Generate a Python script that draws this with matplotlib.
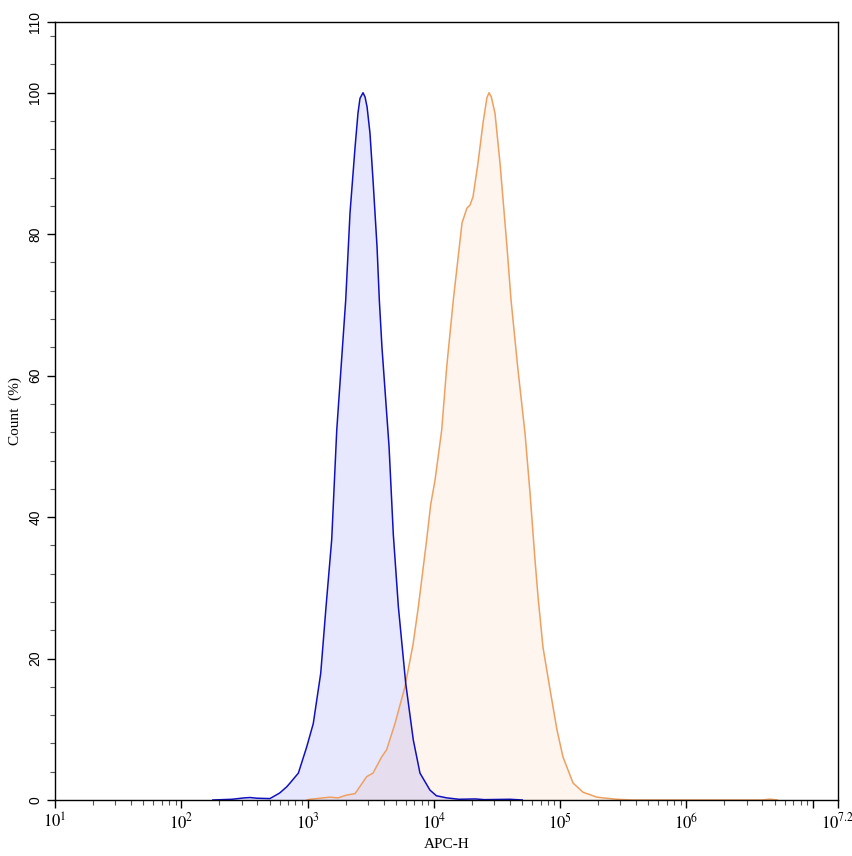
import numpy as np
import matplotlib.pyplot as plt
from matplotlib.ticker import FixedLocator, NullFormatter

plt.rcParams['font.family'] = ['Liberation Serif', 'DejaVu Serif']
plt.rcParams['mathtext.fontset'] = 'stix'

# log10(APC-H) and Count (%)
azul_log = [2.25, 2.40, 2.50, 2.544, 2.60, 2.702, 2.78, 2.837, 2.861, 2.927, 2.993, 3.045,
            3.104, 3.146, 3.191, 3.231, 3.302, 3.336, 3.376, 3.399, 3.415, 3.439, 3.455,
            3.471, 3.494, 3.518, 3.550, 3.568, 3.589, 3.645, 3.679, 3.719, 3.777, 3.837,
            3.890, 3.969, 4.02, 4.102, 4.20, 4.326, 4.40, 4.603, 4.70]
azul_cnt = [0.0, 0.1, 0.3, 0.35, 0.25, 0.2, 1.0, 1.9, 2.4, 3.8, 7.5, 10.8,
            17.9, 27.3, 36.8, 52.3, 70.7, 83.0, 92.3, 97.1, 99.2, 100.0, 99.4,
            98.0, 94.3, 87.7, 78.2, 70.7, 64.0, 50.0, 37.5, 27.3, 16.5, 8.5,
            3.8, 1.4, 0.6, 0.3, 0.1, 0.15, 0.05, 0.1, 0.0]

laranja_log = [2.995, 3.019, 3.177, 3.241, 3.310, 3.376, 3.468, 3.518, 3.587, 3.626, 3.692,
               3.771, 3.835, 3.877, 3.943, 3.975, 4.009, 4.062, 4.102, 4.154, 4.223,
               4.262, 4.286, 4.310, 4.349, 4.389, 4.42, 4.437, 4.455, 4.484, 4.524,
               4.579, 4.611, 4.665, 4.722, 4.761, 4.801, 4.825, 4.864, 4.920, 4.975,
               5.022, 5.102, 5.181, 5.292, 5.339, 5.45, 5.577, 6.60, 6.66, 6.72]
laranja_cnt = [0.0, 0.1, 0.4, 0.3, 0.7, 0.9, 3.3, 3.8, 6.1, 7.1, 10.8,
               16.0, 22.0, 27.3, 36.8, 41.8, 45.2, 52.3, 61.3, 70.7, 81.6,
               83.7, 84.1, 85.3, 90.0, 95.7, 99.3, 100.0, 99.4, 97.1, 90.0,
               78.2, 70.7, 61.0, 51.8, 43.5, 33.9, 28.7, 21.6, 15.6, 9.9,
               6.1, 2.4, 1.1, 0.4, 0.3, 0.1, 0.0, 0.0, 0.12, 0.0]

azul_x = 10 ** np.array(azul_log)
laranja_x = 10 ** np.array(laranja_log)

fig = plt.figure(figsize=(8.53, 8.56), dpi=100)
ax = fig.add_axes([55 / 853, 56 / 856, 783 / 853, 778 / 856])

ax.fill_between(laranja_x, laranja_cnt, color=(0.96, 0.6, 0.28), alpha=0.09, lw=0)
ax.plot(laranja_x, laranja_cnt, color='#eea060', lw=1.1)
ax.fill_between(azul_x, azul_cnt, color=(0.1, 0.1, 0.95), alpha=0.1, lw=0)
ax.plot(azul_x, azul_cnt, color='#1010c0', lw=1.1)

ax.set_xscale('log')
ax.set_xlim(10, 10 ** 7.2)
ax.set_ylim(0, 110)

maj_x = [10, 1e2, 1e3, 1e4, 1e5, 1e6, 1e7, 10 ** 7.2]
rot_x = ['$10^{1}$', '$10^{2}$', '$10^{3}$', '$10^{4}$', '$10^{5}$', '$10^{6}$', '', '$10^{7.2}$']
ax.xaxis.set_major_locator(FixedLocator(maj_x))
ax.set_xticklabels(rot_x, fontsize=12)
minx = [m * 10 ** d for d in range(1, 7) for m in range(2, 10)]
minx = [v for v in minx if v < 10 ** 7.2]
ax.xaxis.set_minor_locator(FixedLocator(minx))
ax.xaxis.set_minor_formatter(NullFormatter())

ax.set_yticks([0, 20, 40, 60, 80, 100, 110])
ax.set_yticklabels(['0', '20', '40', '60', '80', '100', '110'], rotation=90,
                   va='center', fontsize=10, family='Liberation Sans')
ax.yaxis.set_minor_locator(FixedLocator([v for v in range(4, 110, 4) if v % 20 != 0]))

ax.tick_params(which='major', length=6, width=1, direction='out', pad=3)
ax.tick_params(which='minor', length=3.5, width=0.8, direction='out', color='#555555')

ax.set_xlabel('APC-H', fontsize=11, labelpad=4)
ax.set_ylabel('Count  (%)', fontsize=11, labelpad=5)

for s in ax.spines.values():
    s.set_linewidth(1)

fig.savefig('out.png', dpi=100)
